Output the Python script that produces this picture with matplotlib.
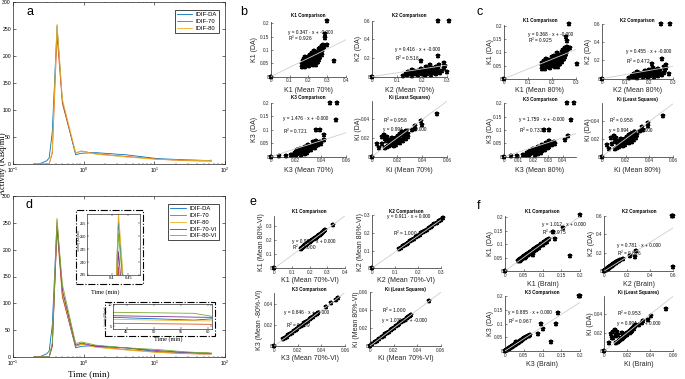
import matplotlib
matplotlib.use('Agg')
import matplotlib.pyplot as plt
from matplotlib.ticker import FuncFormatter, LogLocator, NullFormatter
from matplotlib.patches import Rectangle

plt.rcParams['font.family'] = ['Liberation Sans', 'DejaVu Sans']
plt.rcParams['mathtext.fontset'] = 'custom'
plt.rcParams['mathtext.rm'] = 'Liberation Sans'
plt.rcParams['mathtext.it'] = 'Liberation Sans:italic'

# ---------------- time-activity data ----------------
t_min     = [0.2, 0.235, 0.3, 0.325, 0.36, 0.42, 0.5, 0.77, 0.93, 1.5, 4, 11, 25, 42, 57.5, 64]
idif_da   = [0, 0, 6, 11, 60, 256, 115, 17, 20, 21, 17, 10, 8.0, 7.07, 6.4, 7.0]
idif_70   = [0, 0, 0, 0, 20, 238, 112, 20, 24, 19, 14, 9, 6.5, 5.65, 5.45, 5.35]
idif_80   = [0, 0, 0, 0, 24, 259, 120, 21, 24, 18, 13, 8.5, 7.0, 6.6, 6.25, 6.15]
idif_70vi = [0, 0, 0, 0, 22, 244, 125, 22, 26, 20, 17, 12, 9.0, 7.45, 7.1, 7.0]
idif_80vi = [0, 0, 0, 0, 27, 251, 135, 25, 28, 22, 17, 14, 10.0, 8.25, 8.0, 6.6]
curve_labels = ['IDIF-DA', 'IDIF-70', 'IDIF-80', 'IDIF-70-VI', 'IDIF-80-VI']
curve_colors = ['#0072BD', '#D95319', '#EDB120', '#7E2F8E', '#77AC30']

# ---------------- kinetic parameter data ----------------
K1_DA = [0.036,0.038,0.040,0.041,0.043,0.044,0.045,0.047,0.048,0.050,0.051,0.052,0.054,0.055,0.056,0.058,0.059,0.060,
         0.062,0.063,0.064,0.066,0.067,0.069,0.070,0.072,0.074,0.075,0.077,0.079,0.081,0.083,0.085,0.087,0.089,0.091,
         0.094,0.097,0.100,0.103,0.106,0.109,0.112,0.116,0.120,0.207,0.160,0.144,0.117,0.057,0.058,0.0]
K1_Brain = [0.035,0.040,0.038,0.043,0.041,0.046,0.043,0.049,0.046,0.052,0.049,0.055,0.051,0.057,0.054,0.060,0.056,0.062,
            0.059,0.066,0.061,0.068,0.064,0.071,0.067,0.075,0.071,0.078,0.074,0.082,0.078,0.086,0.082,0.090,0.086,0.094,
            0.091,0.100,0.097,0.106,0.103,0.112,0.109,0.113,0.117,0.200,0.154,0.127,0.134,0.174,0.075,0.0]
K1_M70 = [0.168,0.182,0.205,0.172,0.225,0.190,0.240,0.165,0.212,0.196,0.232,0.178,0.250,0.203,0.186,0.220,0.170,0.238,
          0.208,0.192,0.258,0.228,0.176,0.215,0.245,0.199,0.264,0.183,0.230,0.252,0.210,0.270,0.238,0.222,0.260,0.246,
          0.274,0.232,0.266,0.255,0.278,0.262,0.284,0.272,0.280,0.300,0.290,0.290,0.300,0.335,0.245,0.0]
K1_M80 = [0.158,0.170,0.192,0.163,0.212,0.180,0.226,0.157,0.200,0.186,0.219,0.168,0.236,0.192,0.176,0.208,0.161,0.224,
          0.197,0.181,0.243,0.215,0.166,0.203,0.232,0.189,0.249,0.174,0.218,0.238,0.199,0.255,0.226,0.210,0.246,0.232,
          0.259,0.220,0.251,0.241,0.263,0.248,0.268,0.257,0.265,0.270,0.258,0.262,0.275,0.305,0.232,0.0]

K2_DA = [0.008,0.012,0.015,0.018,0.020,0.022,0.024,0.026,0.028,0.030,0.032,0.034,0.036,0.038,0.040,0.042,0.044,0.046,
         0.048,0.050,0.052,0.054,0.056,0.058,0.060,0.063,0.066,0.069,0.072,0.075,0.078,0.082,0.086,0.090,0.095,0.100,
         0.106,0.112,0.120,0.600,0.600,0.047,0.220,0.165,0.125,0.150,0.0]
K2_Brain = [0.010,0.014,0.017,0.021,0.022,0.025,0.027,0.029,0.031,0.034,0.035,0.038,0.040,0.042,0.045,0.046,0.049,0.051,
            0.053,0.056,0.057,0.060,0.062,0.064,0.067,0.070,0.073,0.076,0.080,0.083,0.086,0.090,0.095,0.099,0.105,0.110,
            0.117,0.124,0.134,0.600,0.590,0.600,0.275,0.225,0.160,0.267,0.0]
K2_M70 = [0.125,0.160,0.210,0.140,0.185,0.235,0.150,0.200,0.255,0.170,0.220,0.135,0.190,0.245,0.162,0.208,0.270,0.178,
          0.228,0.145,0.196,0.260,0.215,0.168,0.240,0.185,0.280,0.205,0.250,0.158,0.225,0.265,0.195,0.238,0.285,0.215,
          0.255,0.290,0.232,0.262,0.305,0.300,0.264,0.194,0.268,0.288,0.0]
K2_M80 = [0.115,0.148,0.195,0.130,0.172,0.218,0.139,0.186,0.237,0.158,0.204,0.125,0.176,0.228,0.150,0.193,0.251,0.165,
          0.212,0.135,0.182,0.242,0.200,0.156,0.223,0.172,0.260,0.190,0.232,0.147,0.209,0.246,0.181,0.221,0.265,0.200,
          0.237,0.270,0.216,0.248,0.285,0.280,0.251,0.209,0.262,0.270,0.0]

K3_DA = [0.002,0.004,0.005,0.006,0.007,0.008,0.009,0.010,0.011,0.012,0.013,0.014,0.015,0.016,0.017,0.018,0.019,0.020,
         0.021,0.022,0.023,0.024,0.025,0.026,0.027,0.028,0.029,0.030,0.032,0.033,0.034,0.036,0.037,0.038,0.040,0.042,
         0.044,0.046,0.048,0.050,0.053,0.056,0.060,0.200,0.200,0.137,0.100,0.100,0.079,0.062,0.034,0.034,0.0]
K3_Brain = [0.003,0.005,0.006,0.007,0.008,0.009,0.010,0.011,0.013,0.013,0.015,0.015,0.017,0.018,0.019,0.020,0.021,0.022,
            0.024,0.024,0.026,0.027,0.028,0.029,0.030,0.031,0.032,0.034,0.036,0.037,0.038,0.040,0.041,0.043,0.045,0.047,
            0.049,0.051,0.054,0.057,0.060,0.063,0.066,0.198,0.200,0.140,0.136,0.097,0.100,0.087,0.123,0.030,0.0]
K3_M70 = [0.007,0.012,0.016,0.020,0.024,0.018,0.027,0.021,0.025,0.019,0.029,0.023,0.026,0.020,0.028,0.022,0.025,0.030,
          0.024,0.027,0.021,0.029,0.026,0.032,0.023,0.028,0.031,0.025,0.033,0.029,0.035,0.027,0.031,0.036,0.033,0.038,
          0.030,0.035,0.040,0.037,0.034,0.039,0.036,0.047,0.053,0.052,0.036,0.039,0.0425,0.0425,0.030,0.027,0.0]
K3_M80 = [0.005,0.009,0.013,0.017,0.021,0.015,0.023,0.018,0.022,0.016,0.025,0.020,0.023,0.017,0.024,0.019,0.022,0.026,
          0.021,0.024,0.018,0.025,0.023,0.028,0.020,0.024,0.027,0.022,0.029,0.025,0.030,0.023,0.027,0.031,0.029,0.033,
          0.026,0.030,0.035,0.032,0.029,0.034,0.031,0.043,0.048,0.046,0.027,0.031,0.0434,0.042,0.026,0.023,0.0]

Ki_DA = [0.009,0.010,0.011,0.012,0.013,0.014,0.015,0.016,0.017,0.018,0.019,0.020,0.021,0.022,0.023,0.024,0.025,0.026,
         0.027,0.028,0.015,0.017,0.019,0.013,0.021,0.016,0.018,0.020,0.022,0.024,0.012,0.014,0.0136,0.0207,0.0230,
         0.0210,0.0089,0.0188,0.0140,0.0175,0.0200,0.0165,0.0460,0.0380,0.0340,0.0330,0.0300,0.0286,0.0]
Ki_Brain = [0.0105,0.0118,0.0125,0.0135,0.0142,0.0150,0.0162,0.0170,0.0178,0.0190,0.0198,0.0205,0.0215,0.0225,0.0232,
            0.0243,0.0250,0.0258,0.0268,0.0276,0.0175,0.0195,0.0210,0.0150,0.0230,0.0180,0.0200,0.0222,0.0240,0.0262,
            0.0140,0.0160,0.0080,0.0078,0.0093,0.0110,0.0040,0.0058,0.0064,0.0120,0.0150,0.0100,0.0540,0.0410,0.0380,
            0.0340,0.0330,0.0300,0.0]
Ki_M70 = [0.0108,0.0125,0.0140,0.0132,0.0155,0.0148,0.0170,0.0162,0.0185,0.0176,0.0200,0.0192,0.0215,0.0208,0.0230,
          0.0222,0.0245,0.0238,0.0262,0.0275,0.0225,0.0250,0.0270,0.0195,0.0285,0.0210,0.0230,0.0255,0.0268,0.0290,
          0.0175,0.0185,0.0040,0.0080,0.0098,0.0120,0.0058,0.0105,0.0085,0.0140,0.0160,0.0115,0.0520,0.0390,0.0396,
          0.0340,0.0345,0.0320,0.0]
Ki_M80 = [0.0112,0.0128,0.0143,0.0136,0.0158,0.0151,0.0172,0.0165,0.0188,0.0179,0.0203,0.0195,0.0218,0.0211,0.0233,
          0.0226,0.0248,0.0242,0.0265,0.0278,0.0228,0.0253,0.0272,0.0198,0.0288,0.0213,0.0232,0.0258,0.0270,0.0292,
          0.0178,0.0188,0.0045,0.0082,0.0100,0.0122,0.0060,0.0108,0.0088,0.0142,0.0162,0.0118,0.0510,0.0385,0.0390,
          0.0338,0.0342,0.0318,0.0]

# panel e (70%-VI vs 80%-VI)
e_K1_x = [0.150,0.156,0.162,0.168,0.174,0.180,0.186,0.192,0.198,0.204,0.210,0.216,0.222,0.228,0.234,0.240,0.246,
          0.252,0.258,0.264,0.270,0.276,0.282,0.288,0.330,0.0]
e_K1_y = [0.139,0.143,0.150,0.154,0.161,0.165,0.172,0.176,0.183,0.188,0.193,0.200,0.204,0.211,0.215,0.222,0.226,
          0.233,0.237,0.244,0.248,0.255,0.259,0.266,0.304,0.0]
e_K2_x = [0.120,0.128,0.136,0.144,0.152,0.160,0.168,0.176,0.184,0.192,0.200,0.208,0.216,0.224,0.232,0.240,0.248,
          0.256,0.264,0.272,0.282,0.292,0.302,0.312,0.0]
e_K2_y = [0.109,0.117,0.124,0.131,0.138,0.146,0.153,0.160,0.168,0.175,0.182,0.189,0.197,0.204,0.211,0.219,0.226,
          0.233,0.240,0.248,0.257,0.266,0.275,0.284,0.0]
e_K3_x = [0.0075,0.009,0.0105,0.012,0.0135,0.015,0.0165,0.018,0.0195,0.021,0.0225,0.024,0.0255,0.027,0.0285,0.030,
          0.0315,0.033,0.0345,0.036,0.0375,0.044,0.048,0.052,0.054,0.0]
e_K3_y = [0.0064,0.0077,0.0089,0.0102,0.0114,0.0127,0.0140,0.0152,0.0165,0.0178,0.0190,0.0203,0.0216,0.0228,0.0241,
          0.0254,0.0266,0.0279,0.0292,0.0305,0.0317,0.0372,0.0406,0.0440,0.0457,0.0]
e_Ki_x = [0.002,0.004,0.006,0.008,0.010,0.0115,0.013,0.0145,0.016,0.0175,0.019,0.0205,0.022,0.0235,0.025,0.0265,
          0.028,0.0295,0.031,0.0325,0.034,0.035,0.050,0.0]
e_Ki_y = [0.002,0.004,0.006,0.008,0.010,0.0115,0.013,0.0145,0.016,0.0175,0.019,0.0205,0.022,0.0235,0.025,0.0265,
          0.028,0.0295,0.031,0.0325,0.034,0.035,0.050,0.0]

sub_titles = ['K1 Comparison', 'K2 Comparison', 'K3 Comparison', 'Ki (Least Squares)']
params = ['K1', 'K2', 'K3', 'Ki']
fit_slope = {'b': [0.347, 0.416, 1.476, 0.994], 'c': [0.368, 0.455, 1.759, 0.994],
             'e': [0.922, 0.911, 0.846, 1.000], 'f': [1.012, 0.781, 0.885, 0.994]}
fit_icpt = {'b': [-0.0001, -0.0001, -0.0001, 0.0001], 'c': [-0.0001, -0.0001, -0.0001, 0.0001],
            'e': [0.0001, 0.0001, -0.0001, -0.0001], 'f': [0.0001, 0.0001, 0.0001, 0.0001]}
fit_r2 = {'b': [0.926, 0.516, 0.721, 0.958], 'c': [0.925, 0.472, 0.732, 0.958],
          'e': [1.000, 1.000, 0.999, 1.000], 'f': [0.975, 0.826, 0.967, 0.953]}

# ---------------- figure ----------------
W, H = 685, 379
fig = plt.figure(figsize=(W / 100, H / 100), dpi=100)


def add_ax(l, t, r, b):
    return fig.add_axes([l / W, 1 - b / H, (r - l) / W, (b - t) / H])


def ftext(x, y, s, **kw):
    fig.text(x / W, 1 - y / H, s, **kw)


gfmt = FuncFormatter(lambda v, p: '%g' % round(v, 6))
SERIF = ['Liberation Serif', 'DejaVu Serif']


def style_tac(ax):
    ax.set_xscale('log')
    ax.set_xlim(0.1, 100)
    ax.set_ylim(0, 300)
    ax.set_yticks([0, 50, 100, 150, 200, 250, 300])
    ax.xaxis.set_minor_locator(LogLocator(base=10, subs=range(2, 10)))
    ax.xaxis.set_minor_formatter(NullFormatter())
    ax.tick_params(which='major', direction='in', labelsize=3.7, length=2, width=0.4, pad=1.5,
                   top=True, right=True)
    ax.tick_params(which='minor', direction='in', length=1, width=0.3, top=True, right=True)
    for s in ax.spines.values():
        s.set_linewidth(0.5)
        s.set_color('#262626')


series = [idif_da, idif_70, idif_80, idif_70vi, idif_80vi]

# panel a
ax_a = add_ax(13, 2, 225, 164)
for k in range(3):
    ax_a.plot(t_min, series[k], color=curve_colors[k], lw=0.6, label=curve_labels[k])
style_tac(ax_a)
ax_a.legend(loc='upper right', bbox_to_anchor=(222 / W, 1 - 7 / H), bbox_transform=fig.transFigure,
            fontsize=4.2, frameon=True, fancybox=False, edgecolor='black', framealpha=1,
            borderpad=0.35, labelspacing=0.3, handlelength=2.6, handletextpad=0.6).get_frame().set_linewidth(0.5)

# panel d
ax_d = add_ax(13, 196, 225, 357)
for k in range(5):
    ax_d.plot(t_min, series[k], color=curve_colors[k], lw=0.6, label=curve_labels[k])
style_tac(ax_d)
ax_d.legend(loc='upper right', bbox_to_anchor=(222 / W, 1 - 201 / H), bbox_transform=fig.transFigure,
            fontsize=4.2, frameon=True, fancybox=False, edgecolor='black', framealpha=1,
            borderpad=0.35, labelspacing=0.3, handlelength=2.8, handletextpad=0.6).get_frame().set_linewidth(0.5)

# inset 1 (peak)
ins1 = add_ax(87, 214, 140, 275)
for k in range(5):
    ins1.plot(t_min, series[k], color=curve_colors[k], lw=0.6)
ins1.set_xlim(0.325, 0.485)
ins1.set_ylim(235, 258.5)
ins1.set_xticks([0.4, 0.45])
ins1.set_yticks([235, 240, 245, 250, 255])
ins1.xaxis.set_major_formatter(gfmt)
ins1.tick_params(direction='in', labelsize=2.8, length=1.2, width=0.3, pad=0.8, top=True, right=True)
for s in ins1.spines.values():
    s.set_linewidth(0.4)
fig.add_artist(Rectangle((76 / W, 1 - 284 / H), 67 / W, 74 / H, transform=fig.transFigure,
                         fill=False, ls='-.', lw=0.8, ec='black'))
ftext(78.6, 241, 'Activity (KBq/ml)', rotation=90, ha='center', va='center', fontsize=2.0, family=SERIF)
ftext(105, 292, 'Time (min)', ha='center', va='center', fontsize=4.5, family=SERIF)

# inset 2 (tail)
ins2 = add_ax(113, 304, 212, 329)
for k in range(5):
    ins2.plot(t_min, series[k], color=curve_colors[k], lw=0.6)
ins2.set_xlim(42.5, 60.8)
ins2.set_ylim(4.3, 10.2)
ins2.set_xticks([45, 50, 55, 60])
ins2.set_yticks([5, 10])
ins2.tick_params(direction='in', labelsize=2.8, length=1.2, width=0.3, pad=0.8, top=True, right=True)
for s in ins2.spines.values():
    s.set_linewidth(0.4)
fig.add_artist(Rectangle((105 / W, 1 - 336 / H), 110 / W, 34 / H, transform=fig.transFigure,
                         fill=False, ls='-.', lw=0.8, ec='black'))
ftext(106.3, 316, 'Activity (KBq/ml)', rotation=90, ha='center', va='center', fontsize=1.9, family=SERIF)
ftext(168, 339.5, 'Time (min)', ha='center', va='center', fontsize=4.5, family=SERIF)

ftext(89, 374, 'Time (min)', ha='center', va='center', fontsize=6.6, family=SERIF)
ftext(2.6, 164, 'Activity (KBq/ml)', rotation=90, ha='center', va='center', fontsize=6.0, family=SERIF)
ftext(30, 11.7, 'a', ha='center', va='center', fontsize=9)
ftext(29.5, 204.5, 'd', ha='center', va='center', fontsize=9)

# ---------------- scatter panels ----------------
panel_data = {
    'b': [(K1_M70, K1_DA), (K2_M70, K2_DA), (K3_M70, K3_DA), (Ki_M70, Ki_DA)],
    'c': [(K1_M80, K1_DA), (K2_M80, K2_DA), (K3_M80, K3_DA), (Ki_M80, Ki_DA)],
    'e': [(e_K1_x, e_K1_y), (e_K2_x, e_K2_y), (e_K3_x, e_K3_y), (e_Ki_x, e_Ki_y)],
    'f': [(K1_Brain, K1_DA), (K2_Brain, K2_DA), (K3_Brain, K3_DA), (Ki_Brain, Ki_DA)],
}
xlab = {'b': 'Mean 70%', 'c': 'Mean 80%', 'e': 'Mean 70%-VI', 'f': 'Brain'}
ylab = {'b': ['DA'] * 4, 'c': ['DA'] * 4,
        'e': ['Mean 80%-VI', 'Mean 80%-VI', 'Mean -80%-VI', 'Mean 80%-VI'], 'f': ['DA'] * 4}

T5 = [0, 0.05, 0.1, 0.15, 0.2]
geom = {
    'b': [((270.7, 22, 346, 76.7), (0, 0.4), (0, 0.205), [0, .1, .2, .3, .4], T5),
          ((371.7, 20.7, 447.3, 76.7), (0, 0.3), (0, 0.6), [0, .1, .2, .3], [0, .2, .4, .6]),
          ((270.7, 102.7, 346, 156.7), (0, 0.06), (0, 0.2), [0, .02, .04, .06], T5),
          ((371.7, 100.7, 447.3, 156.7), (0, 0.06), (0, 0.06), [0, .02, .04, .06], [0, .02, .04])],
    'c': [((504, 24.7, 575.7, 78.7), (0, 0.3), (0, 0.205), [0, .1, .2, .3], T5),
          ((601.7, 24, 673.3, 78.7), (0, 0.3), (0, 0.6), [0, .1, .2, .3], [0, .2, .4, .6]),
          ((504, 103.3, 575.7, 156.7), (0, 0.049), (0, 0.2), [0, .01, .02, .03, .04], T5),
          ((601.7, 103.3, 673.3, 156.7), (0, 0.06), (0, 0.06), [0, .02, .04, .06], [0, .02, .04])],
    'e': [((274.3, 215.7, 345, 268.3), (0, 0.4), (0, 0.37), [0, .1, .2, .3, .4], [0, .1, .2, .3]),
          ((371.7, 215.3, 440.7, 268.3), (0, 0.3), (0, 0.3), [0, .1, .2, .3], [0, .1, .2, .3]),
          ((274.3, 293.3, 345, 346), (0, 0.06), (0, 0.05), [0, .02, .04, .06], [0, .02, .04]),
          ((370, 292.3, 440.7, 346), (0, 0.06), (0, 0.06), [0, .02, .04, .06], [0, .02, .04, .06])],
    'f': [((505, 215.7, 580, 271), (0, 0.2), (0, 0.205), T5, T5),
          ((604.3, 215.7, 673.3, 271), (0, 0.6), (0, 0.6), [0, .2, .4, .6], [0, .2, .4, .6]),
          ((505, 296, 580, 351), (0, 0.2), (0, 0.2), T5, T5),
          ((604.3, 295.7, 673.3, 351), (0, 0.06), (0, 0.06), [0, .02, .04, .06], [0, .02, .04])],
}
title_y = {'b': [16, 16, 97.7, 97.7], 'c': [20.7, 20.7, 99, 99], 'e': [211, 211, 289, 289],
           'f': [211.7, 211.7, 292.3, 292.3]}
xlab_y = {'b': [90, 90, 170.7, 170.7], 'c': [90, 90, 170, 170], 'e': [280, 280, 358.3, 358.3],
          'f': [284, 284, 365, 365]}
ylab_x = {'b': [255, 358, 255, 358], 'c': [490, 588, 490, 588], 'e': [261.7, 360.7, 259.8, 356.5],
          'f': [490, 591.7, 490, 590]}
eq_pos = {'b': [(0.094, 0.167), (0.0925, 0.293), (0.0096, 0.142), (0.0093, 0.029)],
          'c': [(0.099, 0.167), (0.100, 0.296), (0.0105, 0.141), (0.0064, 0.0294)],
          'e': [(0.100, 0.186), (0.065, 0.296), (0.0085, 0.0322), (0.0105, 0.0283)],
          'f': [(0.0978, 0.171), (0.113, 0.282), (0.0071, 0.139), (0.0113, 0.0294)]}
r2_pos = {'b': [(0.094, 0.145), (0.0925, 0.196), (0.0096, 0.095), (0.0093, 0.039)],
          'c': [(0.099, 0.145), (0.100, 0.194), (0.0105, 0.0975), (0.0064, 0.0404)],
          'e': [(0.100, 0.144), (0.091, 0.197), (0.0099, 0.0197), (0.0105, 0.040)],
          'f': [(0.0978, 0.143), (0.113, 0.192), (0.0071, 0.107), (0.0113, 0.0407)]}
panel_letter = {'b': (243.3, 11.7), 'c': (480, 11.7), 'e': (253.3, 201.7), 'f': (478.3, 205.7)}

for p in ['b', 'c', 'e', 'f']:
    lx, ly = panel_letter[p]
    ftext(lx, ly, p, ha='center', va='center', fontsize=9)
    for i in range(4):
        (l, t, r, b), xl, yl, xt, yt = geom[p][i]
        ax = add_ax(l, t, r, b)
        xs, ys = panel_data[p][i]
        ax.plot(xs, ys, ls='none', marker='*', ms=3.6, mew=1.1, color='black', clip_on=False, zorder=2)
        m = fit_slope[p][i]
        ax.plot([xl[0], xl[1]], [m * xl[0], m * xl[1]], color='#cfcfcf', lw=0.6, zorder=3)
        ax.set_xlim(xl)
        ax.set_ylim(yl)
        ax.set_xticks(xt)
        ax.set_yticks(yt)
        ax.xaxis.set_major_formatter(gfmt)
        ax.yaxis.set_major_formatter(gfmt)
        ax.tick_params(direction='in', labelsize=3.4, length=1.3, width=0.4, pad=1.2, colors='#262626')
        for s in ['top', 'right']:
            ax.spines[s].set_visible(False)
        for s in ['left', 'bottom']:
            ax.spines[s].set_linewidth(0.5)
            ax.spines[s].set_color('#262626')
        eq = 'y = %.3f \u00b7 x + %.3f' % (m, fit_icpt[p][i])
        ax.text(eq_pos[p][i][0], eq_pos[p][i][1], eq, fontsize=3.4, ha='left', va='center', zorder=4)
        ax.text(r2_pos[p][i][0], r2_pos[p][i][1], 'R$^2$ = %.3f' % fit_r2[p][i], fontsize=3.4,
                ha='left', va='center', zorder=4)
        cx = (l + r) / 2
        ftext(cx, title_y[p][i], sub_titles[i], ha='center', va='center', fontsize=3.3, fontweight='bold')
        ftext(cx, xlab_y[p][i], '%s (%s)' % (params[i], xlab[p]), ha='center', va='center',
              fontsize=5, color='#262626')
        ftext(ylab_x[p][i], (t + b) / 2, '%s (%s)' % (params[i], ylab[p][i]), ha='center', va='center',
              rotation=90, fontsize=5, color='#262626')

fig.savefig('out.png', dpi=100)
